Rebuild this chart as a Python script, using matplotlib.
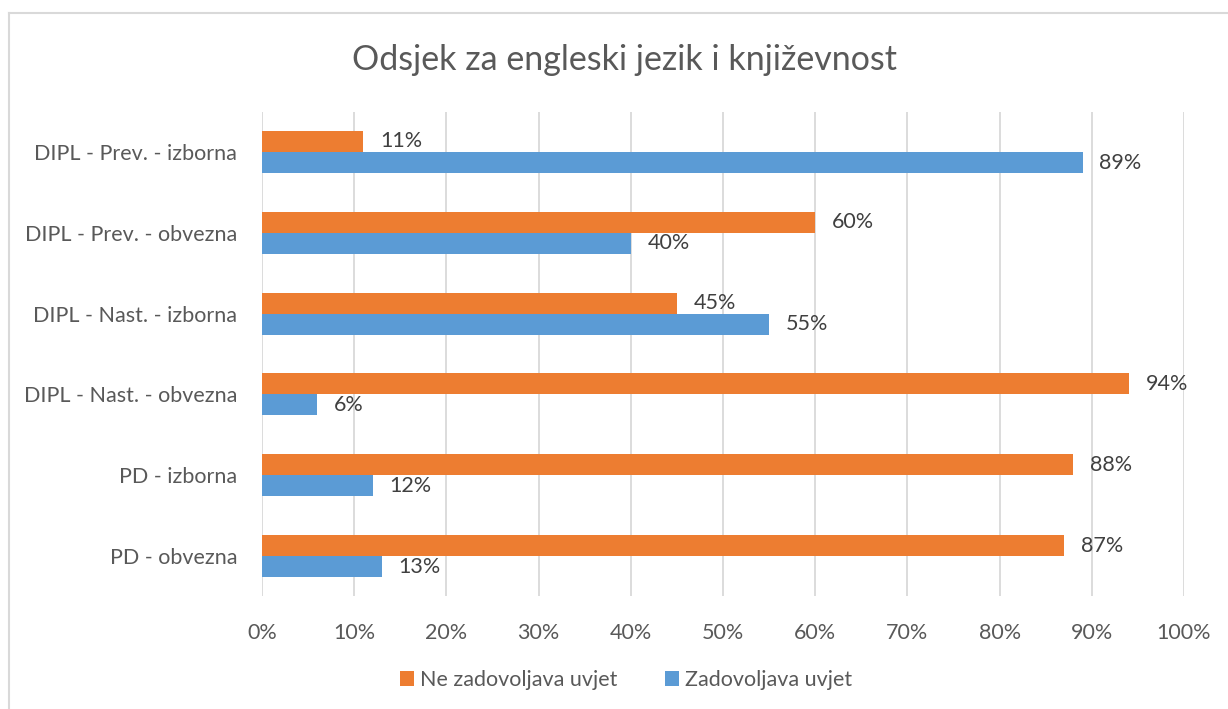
import matplotlib.pyplot as plt
from matplotlib.lines import Line2D
from matplotlib.ticker import PercentFormatter

# chart data (bottom to top, as drawn)
categories = ['PD - obvezna', 'PD - izborna', 'DIPL - Nast. - obvezna',
              'DIPL - Nast. - izborna', 'DIPL - Prev. - obvezna',
              'DIPL - Prev. - izborna']
ne_zadovoljava = [87, 88, 94, 45, 60, 11]
zadovoljava = [13, 12, 6, 55, 40, 89]
series_names = ['Ne zadovoljava uvjet', 'Zadovoljava uvjet']
x_ticks = [0, 10, 20, 30, 40, 50, 60, 70, 80, 90, 100]

ORANGE = '#ed7d31'
BLUE = '#5b9bd5'
TEXT = '#595959'
LABEL = '#404040'
GRID = '#d9d9d9'

plt.rcParams['font.family'] = ['Lato', 'DejaVu Sans']
FS = 15.5

fig = plt.figure(figsize=(12.28, 7.09), dpi=100)
ax = fig.add_axes([0.2134, 0.1588, 0.7508, 0.6838])

# outer frame (only left and top edges visible)
fig.add_artist(Line2D([9/1228, 9/1228], [0, 1 - 13/709], transform=fig.transFigure,
                      color=GRID, lw=1.5))
fig.add_artist(Line2D([9/1228, 1], [1 - 13/709, 1 - 13/709], transform=fig.transFigure,
                      color=GRID, lw=1.5))

h = 0.26
ypos = list(range(len(categories)))
b1 = ax.barh([y + h/2 for y in ypos], ne_zadovoljava, height=h, color=ORANGE,
             label=series_names[0], zorder=3)
b2 = ax.barh([y - h/2 for y in ypos], zadovoljava, height=h, color=BLUE,
             label=series_names[1], zorder=3)

for bars in (b1, b2):
    for bar in bars:
        w = bar.get_width()
        ax.annotate(f'{w:.0f}%', (w, bar.get_y() + bar.get_height()/2),
                    xytext=(12, 0), textcoords='offset points',
                    va='center', ha='left', fontsize=FS, color=LABEL)

ax.set_xlim(0, 100)
ax.set_ylim(-0.5, len(categories) - 0.5)
ax.set_xticks(x_ticks)
ax.xaxis.set_major_formatter(PercentFormatter(decimals=0))
ax.set_yticks(ypos)
ax.set_yticklabels(categories)
ax.tick_params(axis='x', length=0, pad=19, labelsize=FS, labelcolor=TEXT)
ax.tick_params(axis='y', length=0, pad=18, labelsize=FS, labelcolor=TEXT)
ax.grid(axis='x', color=GRID, lw=1.3, zorder=0)
for s in ax.spines.values():
    s.set_visible(False)

fig.text(625/1228, 1 - 60/709, 'Odsjek za engleski jezik i književnost',
         ha='center', va='center', fontsize=24.5, color=TEXT)

fig.legend(handles=[b1, b2], loc='center', bbox_to_anchor=(626/1228, 1 - 680/709),
           ncol=2, frameon=False, fontsize=FS, labelcolor=TEXT,
           handlelength=0.65, handleheight=0.65, handletextpad=0.3, columnspacing=2.2)

fig.savefig('out.png', dpi=100)
